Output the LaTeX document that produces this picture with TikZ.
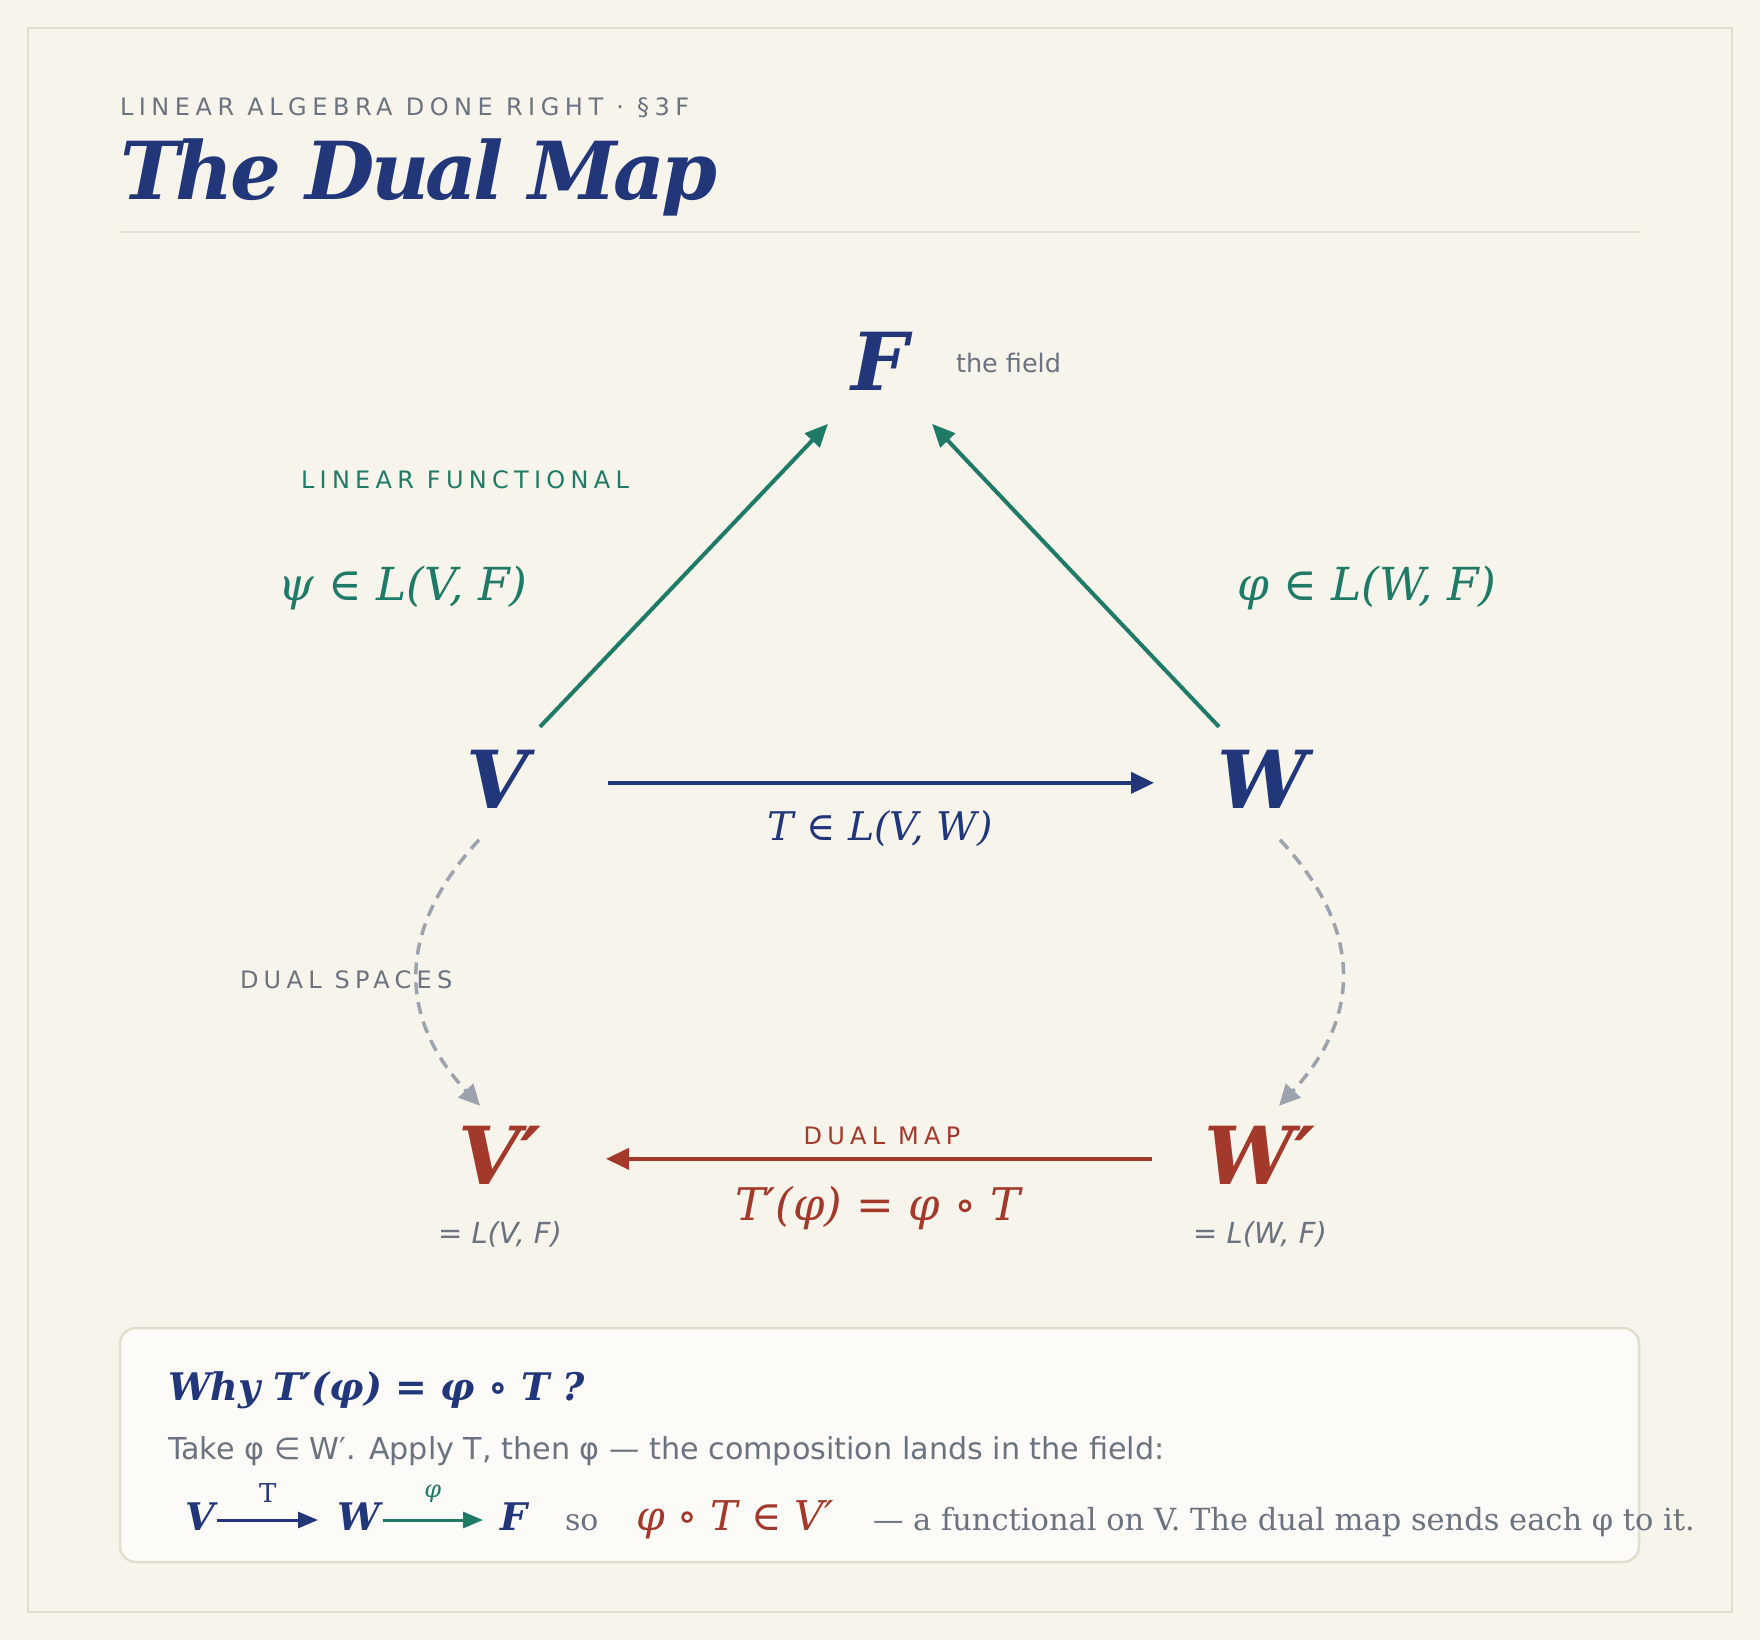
\documentclass[tikz,border=0pt]{standalone}
\usepackage{fontspec}
\setmainfont{DejaVu Serif}
\newfontfamily\dsans{DejaVu Sans}
\newfontfamily\dsanssub[LetterSpace=23]{DejaVu Sans}
\newfontfamily\dsansls[LetterSpace=22]{DejaVu Sans}
\newfontfamily\dser{DejaVu Serif}
\newfontfamily\dsertitle[LetterSpace=-4.6]{DejaVu Serif}
\usetikzlibrary{arrows.meta,calc}
\definecolor{bg}{HTML}{F7F4EB}
\definecolor{framec}{HTML}{E2DECE}
\definecolor{navy}{HTML}{22377A}
\definecolor{tealc}{HTML}{1F7A67}
\definecolor{rust}{HTML}{A3392B}
\definecolor{slate}{HTML}{6B7280}
\definecolor{dgray}{HTML}{9CA3AF}
\definecolor{boxfill}{HTML}{FCFBF7}
\newcommand\fsz[1]{\fontsize{#1}{#1}\selectfont}
\tikzset{
  txt/.style={inner sep=0pt, outer sep=0pt},
  bigsym/.style={txt, font=\dser\bfseries\itshape\fsz{80}},
  caplabel/.style={txt, font=\dsansls\fsz{24}},
  mathlbl/.style={txt, font=\dser\itshape\fsz{45.5}},
  garrow/.style={draw=tealc, line width=4pt, -{Triangle[length=23pt,width=20pt]}},
  narrow/.style={draw=navy, line width=4pt, -{Triangle[length=23pt,width=21pt]}},
  rarrow/.style={draw=rust, line width=4pt, -{Triangle[length=23pt,width=21pt]}},
  darrow/.style={draw=dgray, line width=3.5pt, dash pattern=on 12pt off 8pt, -{Triangle[length=21pt,width=20pt]}},
  smallarrow/.style={line width=3pt, -{Triangle[length=20pt,width=16pt]}},
}
\begin{document}
\begin{tikzpicture}[x=1pt,y=-1pt]
\useasboundingbox (0,0) rectangle (1760,1640);
\fill[bg] (0,0) rectangle (1760,1640);
\draw[framec, line width=2.5pt] (28,28) rectangle (1732,1612);

% header
\node[txt, font=\dsanssub\fsz{24}, text=slate, anchor=base west] (sub) at (120,116) {LINEAR ALGEBRA DONE RIGHT · §3F};
\node[txt, anchor=base west, text=navy, font=\dsertitle\bfseries\itshape\fsz{80}] (title) at (120,200) {The Dual Map};
\draw[framec, line width=2.5pt] (120,232) -- (1639,232);

% main nodes
\node[bigsym, text=navy, anchor=base] (F) at (880,390) {F};
\node[bigsym, text=navy, anchor=base] (V) at (498,808) {V};
\node[bigsym, text=navy, anchor=base] (W) at (1262,808) {W};
\node[bigsym, text=rust, anchor=base] (Vd) at (500,1184) {V′};
\node[bigsym, text=rust, anchor=base] (Wd) at (1260,1184) {W′};

\node[txt, anchor=base west, text=slate, font=\dsans\fsz{25.5}] (field) at (956,372) {the field};

% arrows to F
\draw[garrow] ([shift={(42pt,52pt)}]V.center) -- ([shift={(-52pt,-63pt)}]F.center);
\draw[garrow] ([shift={(-43pt,52pt)}]W.center) -- ([shift={(52pt,-63pt)}]F.center);
\node[caplabel, text=tealc, anchor=base west] (lf) at (301,488) {LINEAR FUNCTIONAL};
\node[mathlbl, text=tealc, anchor=base west] (psi) at (278,600) {ψ ∈ L(V, F)};
\node[mathlbl, text=tealc, anchor=base west] (phi) at (1237,600) {φ ∈ L(W, F)};

% T
\draw[narrow, shorten <=110pt, shorten >=108pt] ([yshift=-4pt]V.center) -- ([yshift=-4pt]W.center);
\node[txt, anchor=base, text=navy, font=\dser\itshape\fsz{39.5}] (Tl) at (880,840) {T ∈ L(V, W)};

% dual spaces
\coordinate (ls) at ($(V.center)+(-19,61)$);
\coordinate (le) at ($(Vd.center)+(-20,-49)$);
\coordinate (rs) at ($(W.center)+(18,61)$);
\coordinate (re) at ($(Wd.center)+(19,-49)$);
\draw[darrow] (ls) .. controls ($(ls)+(-82,89)$) and ($(le)+(-83,-89)$) .. (le);
\draw[darrow] (rs) .. controls ($(rs)+(83,89)$) and ($(re)+(83,-89)$) .. (re);
\node[caplabel, text=slate, anchor=base west] (ds) at (240,988) {DUAL SPACES};

% dual map
\draw[rarrow, shorten <=108pt, shorten >=106pt] ([yshift=-4pt]Wd.center) -- ([yshift=-4pt]Vd.center);
\node[caplabel, text=rust, anchor=base] (dm) at (882,1144) {DUAL MAP};
\node[txt, anchor=base, text=rust, font=\dser\itshape\fsz{45}] (Tp) at (878,1220) {T′(φ) = φ ∘ T};
\node[txt, anchor=base, text=slate, font=\dsans\itshape\fsz{29}] (eqV) at (500,1243) {= L(V, F)};
\node[txt, anchor=base, text=slate, font=\dsans\itshape\fsz{29}] (eqW) at (1260,1243) {= L(W, F)};

% box
\draw[framec, fill=boxfill, line width=2.5pt, rounded corners=16pt] (120,1328) rectangle (1639,1562);
\node[txt, anchor=base west, text=navy, font=\dser\bfseries\itshape\fsz{38}] (why) at (168,1400) {Why T′(φ) = φ ∘ T ?};
\node[txt, anchor=base west, text=slate, font=\dsans\fsz{30.2}] (take) at (168,1459) {Take φ ∈ W′. Apply T, then φ — the composition lands in the field:};
\node[txt, anchor=base west, text=navy, font=\dser\bfseries\itshape\fsz{38}] (bV) at (185,1530) {V};
\node[txt, anchor=base west, text=navy, font=\dser\bfseries\itshape\fsz{38}] (bW) at (337,1530) {W};
\node[txt, anchor=base west, text=navy, font=\dser\bfseries\itshape\fsz{38}] (bF) at (500,1530) {F};
\draw[smallarrow, navy] ([shift={(3pt,10pt)}]bV.base east) -- node[midway, above=18pt, txt, text=navy, font=\dser\fsz{26}] (lT) {T} ([shift={(-19pt,10pt)}]bW.base west);
\draw[smallarrow, tealc] ([shift={(3pt,10pt)}]bW.base east) -- node[midway, above=18pt, txt, text=tealc, font=\dser\itshape\fsz{24}] (lphi) {φ} ([shift={(-17pt,10pt)}]bF.base west);
\node[txt, anchor=base west, text=slate, font=\dser\fsz{30}] (so) at (565,1530) {so};
\node[txt, anchor=base west, text=rust, font=\dser\itshape\fsz{41}] (comp) at (636,1530) {φ ∘ T ∈ V′};
\node[txt, anchor=base west, text=slate, font=\dser\fsz{30.5}] (rest) at (873,1530) {— a functional on V. The dual map sends each φ to it.};
\end{tikzpicture}
\end{document}
